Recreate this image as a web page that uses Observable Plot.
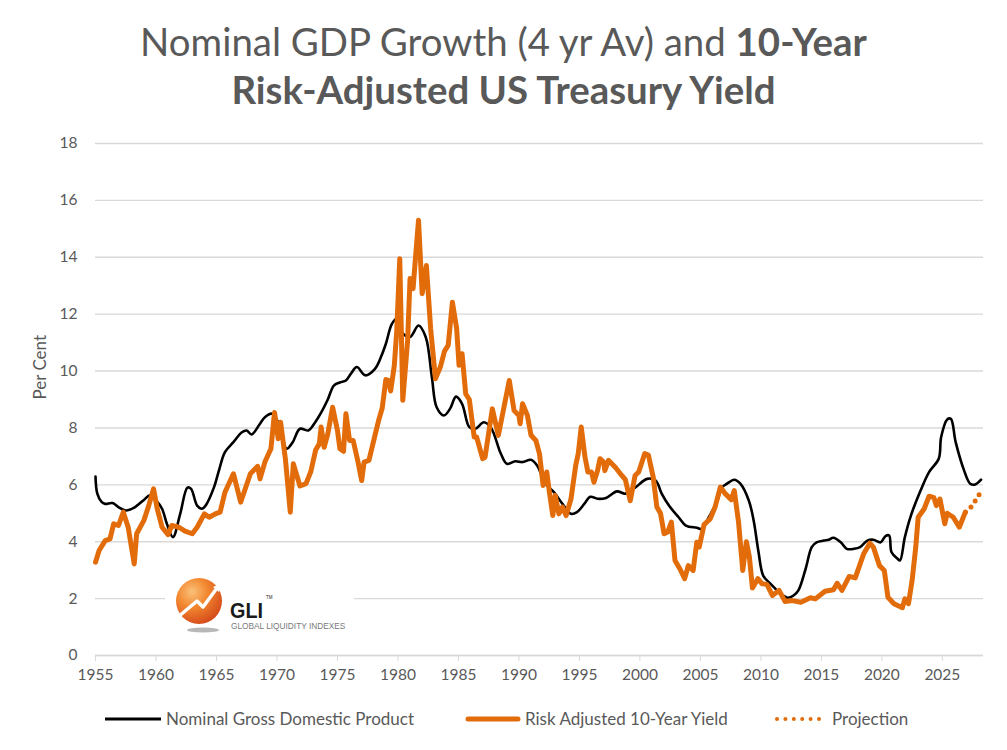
<!DOCTYPE html>
<html>
<head>
<meta charset="utf-8">
<script src="https://cdn.jsdelivr.net/npm/d3@7"></script>
<script src="https://cdn.jsdelivr.net/npm/@observablehq/plot@0.6"></script>
<style>
  body { margin: 0; background: #fff; width: 1007px; height: 750px; position: relative; overflow: hidden; font-family: Lato, "Open Sans", sans-serif; }
  #title { position: absolute; left: 0; top: 17px; width: 1007px; text-align: center; color: #595959; font-size: 38.4px; line-height: 48px; }
  #title b { font-weight: 700; }
  #chart { position: absolute; left: 0; top: 125px; }
  .leg { position: absolute; top: 708px; font-size: 17px; color: #595959; white-space: nowrap; display: flex; align-items: center; }
  .leg svg { margin-right: 4px; }
</style>
</head>
<body>
<div id="title">Nominal GDP Growth (4 yr Av) and <b>10-Year</b><br><b>Risk-Adjusted US Treasury Yield</b></div>
<div id="chart"></div>
<div class="leg" style="left:104px"><svg width="58" height="10"><line x1="1" y1="5" x2="57" y2="5" stroke="#000" stroke-width="3"/></svg>Nominal Gross Domestic Product</div>
<div class="leg" style="left:465px"><svg width="56" height="10"><line x1="3" y1="5" x2="53" y2="5" stroke="#E36C0A" stroke-width="5" stroke-linecap="round"/></svg>Risk Adjusted 10-Year Yield</div>
<div class="leg" style="left:774px"><svg width="54" height="10"><line x1="3" y1="5" x2="45" y2="5" stroke="#E36C0A" stroke-width="4" stroke-linecap="round" stroke-dasharray="0 8.4"/></svg>Projection</div>
<script>
// Nominal GDP growth, 4-year average (per cent)
const gdpYear = [1955.0,1955.15,1955.5,1955.8,1956.4,1956.9,1957.5,1958.2,1959.0,1959.5,1960.0,1960.5,1960.9,1961.4,1962.0,1962.6,1962.9,1963.4,1963.8,1964.1,1964.8,1965.2,1965.7,1966.4,1967.1,1967.5,1967.9,1968.6,1969.0,1969.6,1970.2,1970.8,1971.3,1971.9,1972.6,1973.0,1973.6,1974.2,1974.7,1975.2,1975.7,1976.1,1976.6,1977.3,1978.1,1978.6,1979.0,1979.5,1979.9,1980.3,1981.0,1981.7,1982.3,1982.8,1983.2,1983.8,1984.3,1984.8,1985.3,1985.9,1986.4,1987.1,1987.7,1988.5,1989.0,1989.7,1990.3,1991.0,1991.5,1992.2,1992.9,1993.6,1994.3,1994.8,1995.4,1995.9,1996.5,1997.2,1998.1,1998.8,1999.6,2000.6,2001.3,2001.8,2002.4,2003.2,2003.8,2004.7,2005.1,2005.7,2006.4,2006.8,2007.2,2007.8,2008.3,2009.0,2009.4,2009.8,2010.2,2010.8,2011.5,2012.2,2012.7,2013.1,2013.7,2014.2,2014.6,2015.2,2015.6,2016.0,2016.6,2017.1,2017.7,2018.2,2018.8,2019.3,2019.9,2020.3,2020.6,2020.8,2021.3,2021.5,2021.9,2022.4,2023.2,2023.9,2024.7,2024.9,2025.4,2025.7,2026.1,2026.8,2027.3,2027.7,2028.2];
const gdpValue = [6.29,5.69,5.4,5.33,5.36,5.22,5.1,5.2,5.47,5.63,5.45,5.16,4.63,4.16,4.98,5.9,5.86,5.27,5.16,5.27,5.92,6.5,7.15,7.5,7.85,7.91,7.77,8.15,8.38,8.5,8.1,7.27,7.5,7.97,7.91,8.1,8.5,9.0,9.49,9.6,9.67,9.9,10.14,9.85,10.08,10.5,10.96,11.66,11.84,11.37,11.2,11.6,11.19,9.8,8.73,8.44,8.67,9.1,8.85,8.03,7.97,8.2,8.0,7.1,6.74,6.83,6.8,6.88,6.68,6.04,5.74,5.33,4.98,5.04,5.33,5.58,5.51,5.54,5.77,5.69,5.9,6.21,6.15,5.69,5.27,4.86,4.57,4.49,4.45,4.86,5.45,5.92,6.04,6.18,6.04,5.45,4.75,3.65,2.8,2.52,2.23,2.03,2.11,2.29,3.05,3.81,3.98,4.04,4.07,4.14,3.98,3.75,3.75,3.81,4.04,4.07,3.98,4.2,4.22,3.63,3.4,3.34,4.16,4.92,5.8,6.45,6.92,7.68,8.3,8.32,7.5,6.5,6.04,6.01,6.18];

// Risk-adjusted 10-year US Treasury yield (per cent)
const yieldYear = [1955.0,1955.3,1955.8,1956.2,1956.5,1956.9,1957.3,1957.7,1958.2,1958.4,1959.0,1959.4,1959.8,1960.1,1960.5,1961.0,1961.3,1961.9,1962.4,1963.0,1963.4,1964.0,1964.4,1964.9,1965.3,1965.7,1966.4,1967.0,1967.8,1968.4,1968.6,1969.0,1969.5,1969.8,1970.1,1970.3,1970.7,1971.1,1971.35,1971.9,1972.4,1972.8,1973.2,1973.5,1973.65,1973.9,1974.2,1974.6,1975.0,1975.2,1975.5,1975.7,1976.0,1976.3,1976.7,1977.0,1977.2,1977.6,1978.0,1978.4,1978.7,1979.0,1979.2,1979.4,1979.7,1979.9,1980.15,1980.4,1980.8,1981.0,1981.25,1981.4,1981.7,1982.0,1982.35,1982.7,1983.1,1983.5,1983.85,1984.15,1984.5,1984.85,1985.05,1985.3,1985.6,1985.9,1986.3,1986.5,1987.0,1987.2,1987.8,1988.3,1988.6,1989.2,1989.6,1990.0,1990.1,1990.3,1990.7,1991.0,1991.4,1991.7,1992.0,1992.3,1992.5,1992.8,1993.0,1993.3,1993.6,1993.9,1994.3,1994.7,1994.9,1995.15,1995.45,1995.7,1996.0,1996.2,1996.5,1996.7,1997.0,1997.1,1997.4,1998.0,1998.5,1998.8,1999.2,1999.6,1999.9,2000.4,2000.7,2001.1,2001.4,2001.7,2002.0,2002.3,2002.6,2002.9,2003.3,2003.7,2004.0,2004.4,2004.7,2004.9,2005.3,2005.8,2006.2,2006.65,2007.05,2007.55,2007.8,2008.15,2008.5,2008.8,2009.05,2009.3,2009.75,2010.1,2010.5,2010.95,2011.5,2012.0,2012.6,2013.3,2014.1,2014.5,2015.3,2016.0,2016.3,2016.7,2017.3,2017.8,2018.5,2019.0,2019.3,2019.8,2020.2,2020.5,2021.0,2021.7,2021.9,2022.2,2022.5,2022.8,2023.0,2023.5,2023.9,2024.3,2024.5,2024.8,2025.2,2025.4,2025.9,2026.4,2026.9];
const yieldValue = [3.28,3.69,4.04,4.1,4.63,4.57,5.04,4.51,3.22,4.28,4.75,5.27,5.86,5.16,4.51,4.25,4.57,4.51,4.37,4.28,4.51,4.98,4.86,4.98,5.04,5.74,6.39,5.39,6.39,6.65,6.21,6.8,7.27,8.54,7.62,8.2,6.9,5.04,6.74,5.96,6.04,6.47,7.23,7.44,8.03,7.32,7.79,8.73,7.91,7.27,7.18,8.5,7.56,7.56,6.8,6.15,6.8,6.86,7.56,8.26,8.7,9.7,9.67,9.3,10.2,11.4,13.95,8.97,11.08,13.25,12.9,13.71,15.3,12.72,13.71,11.5,9.73,10.14,10.7,10.9,12.42,11.5,10.2,10.61,9.2,9.0,7.68,7.68,6.92,6.97,8.67,7.74,8.38,9.67,8.61,8.44,8.15,8.85,8.44,7.74,7.56,7.09,5.98,6.45,5.8,4.92,5.63,4.98,5.22,4.92,5.5,6.7,7.09,8.03,7.0,6.45,6.45,6.09,6.5,6.92,6.8,6.5,6.86,6.6,6.33,6.18,5.44,6.33,6.45,7.1,7.05,6.27,5.22,5.0,4.28,4.34,4.69,3.34,3.05,2.7,3.16,2.99,3.98,3.81,4.6,4.8,5.2,5.92,5.69,5.48,5.8,4.7,2.99,4.0,3.46,2.37,2.7,2.52,2.5,2.11,2.29,1.9,1.93,1.87,2.03,1.99,2.26,2.31,2.54,2.29,2.78,2.73,3.58,3.95,3.81,3.16,2.99,2.05,1.82,1.68,1.99,1.82,2.64,3.81,4.86,5.16,5.6,5.55,5.27,5.5,4.63,5.0,4.86,4.51,5.04];

// Projected path of the risk-adjusted yield
const projYear = [2026.9, 2027.5, 2027.85, 2028.3];
const projValue = [5.04, 5.27, 5.54, 5.82];

// Axis ticks
const xTicks = [1955,1960,1965,1970,1975,1980,1985,1990,1995,2000,2005,2010,2015,2020,2025];
const yTicks = [0,2,4,6,8,10,12,14,16,18];

const ORANGE = "#E36C0A";
const GRID = "#d9d9d9";

const gdp = gdpYear.map((x, i) => ({x, y: gdpValue[i]}));
const yld = yieldYear.map((x, i) => ({x, y: yieldValue[i]}));
const proj = projYear.map((x, i) => ({x, y: projValue[i]}));

const chart = Plot.plot({
  width: 1007,
  height: 575,
  marginTop: 18,
  marginBottom: 45,
  marginLeft: 95,
  marginRight: 24,
  x: {domain: [1955, 2028.4]},
  y: {domain: [0, 18]},
  style: {fontFamily: "Lato, 'Open Sans', sans-serif", fontSize: "15px", color: "#595959", background: "white", overflow: "visible"},
  marks: [
    Plot.gridY(yTicks, {stroke: GRID, strokeOpacity: 1, strokeWidth: 1.4}),
    Plot.axisY(yTicks, {tickSize: 0, tickPadding: 18, label: null, fontSize: 15.5}),
    Plot.axisX(xTicks, {tickSize: 6, stroke: GRID, strokeOpacity: 1, tickPadding: 7, tickFormat: d => String(d), label: null, fontSize: 15.5}),
    Plot.ruleY([0], {stroke: GRID, strokeWidth: 1.4}),
    Plot.line(gdp, {x: "x", y: "y", stroke: "#000", strokeWidth: 2.6, curve: "catmull-rom"}),
    Plot.line(yld, {x: "x", y: "y", stroke: ORANGE, strokeWidth: 5, strokeLinejoin: "round", strokeLinecap: "round"}),
    Plot.line(proj, {x: "x", y: "y", stroke: ORANGE, strokeWidth: 5, strokeLinecap: "round", strokeDasharray: "0 7.5"}),
    Plot.text(["Per Cent"], {frameAnchor: "left", dx: -55, rotate: -90, fontSize: 17, fill: "#595959"})
  ]
});
document.getElementById("chart").appendChild(chart);

// GLI logo badge in the lower-left of the plot area
const svg = d3.select(chart);
const defs = svg.append("defs");
const grad = defs.append("radialGradient").attr("id", "gliBall").attr("cx", "35%").attr("cy", "30%").attr("r", "75%");
grad.append("stop").attr("offset", "0%").attr("stop-color", "#fbc27a");
grad.append("stop").attr("offset", "45%").attr("stop-color", "#f2872f");
grad.append("stop").attr("offset", "100%").attr("stop-color", "#d4491a");
const logo = svg.append("g").attr("transform", "translate(0,-125)").attr("text-anchor", "start");
logo.append("rect").attr("x", 165).attr("y", 572).attr("width", 189).attr("height", 66).attr("fill", "white");
logo.append("ellipse").attr("cx", 203).attr("cy", 630).attr("rx", 16).attr("ry", 2.5).attr("fill", "#9a9a9a").attr("opacity", 0.7);
logo.append("circle").attr("cx", 199).attr("cy", 601).attr("r", 23).attr("fill", "url(#gliBall)");
logo.append("polyline").attr("points", "178,617 197,601 203,607 217,588")
  .attr("fill", "none").attr("stroke", "white").attr("stroke-width", 3.5).attr("stroke-linejoin", "round");
logo.append("polygon").attr("points", "213,587 222,583 219,592").attr("fill", "white");
logo.append("text").attr("x", 230).attr("y", 618).attr("font-family", "'Liberation Sans', Arial, sans-serif")
  .attr("font-size", 22).attr("font-weight", 700).attr("fill", "#1a1a1a")
  .attr("textLength", 33).attr("lengthAdjust", "spacingAndGlyphs").text("GLI");
logo.append("text").attr("x", 266).attr("y", 599).attr("font-family", "'Liberation Sans', Arial, sans-serif")
  .attr("font-size", 4.5).attr("fill", "#1a1a1a").text("TM");
logo.append("text").attr("x", 231).attr("y", 629).attr("font-family", "'Liberation Sans', Arial, sans-serif")
  .attr("font-size", 8.3).attr("fill", "#7a7a7a").text("GLOBAL LIQUIDITY INDEXES");
</script>
</body>
</html>
